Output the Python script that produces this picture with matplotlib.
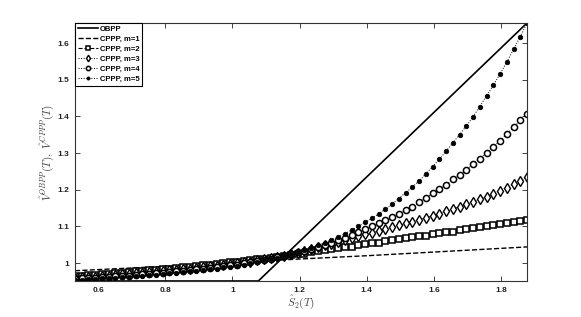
import numpy as np
import matplotlib
matplotlib.use("Agg")
import matplotlib.pyplot as plt

plt.rcParams['mathtext.fontset'] = 'cm'

s_grid = np.linspace(0.531, 1.877, 68)

# OBPP (piecewise linear)
obpp_x = [0.531, 1.077, 1.877]
obpp_y = [0.951, 0.951, 1.655]

# CPPP, m=1 (dashed, no markers)
m1_x = [0.531, 0.8, 1.0, 1.2, 1.4, 1.6, 1.877]
m1_y = [0.979, 0.991, 1.001, 1.011, 1.020, 1.030, 1.044]

m2 = [0.964, 0.965, 0.967, 0.968, 0.969, 0.971, 0.972, 0.974, 0.975, 0.977,
      0.978, 0.980, 0.981, 0.983, 0.985, 0.986, 0.988, 0.990, 0.992, 0.994,
      0.996, 0.998, 1.000, 1.002, 1.004, 1.006, 1.008, 1.010, 1.012, 1.014,
      1.017, 1.019, 1.022, 1.024, 1.026, 1.029, 1.032, 1.035, 1.037, 1.040,
      1.043, 1.045, 1.048, 1.051, 1.054, 1.056, 1.059, 1.062, 1.065, 1.067,
      1.070, 1.073, 1.075, 1.078, 1.081, 1.084, 1.086, 1.089, 1.092, 1.095,
      1.098, 1.101, 1.104, 1.106, 1.109, 1.112, 1.114, 1.117]

m3 = [0.960, 0.961, 0.962, 0.963, 0.965, 0.966, 0.967, 0.969, 0.970, 0.972,
      0.973, 0.975, 0.976, 0.978, 0.980, 0.981, 0.983, 0.985, 0.987, 0.989,
      0.991, 0.993, 0.995, 0.997, 0.999, 1.002, 1.004, 1.007, 1.010, 1.013,
      1.016, 1.020, 1.024, 1.028, 1.033, 1.038, 1.043, 1.048, 1.053, 1.058,
      1.063, 1.068, 1.073, 1.078, 1.083, 1.088, 1.093, 1.098, 1.103, 1.108,
      1.113, 1.118, 1.123, 1.129, 1.135, 1.141, 1.147, 1.154, 1.160, 1.167,
      1.174, 1.181, 1.189, 1.197, 1.206, 1.216, 1.225, 1.234]

m4 = [0.957, 0.958, 0.959, 0.960, 0.961, 0.962, 0.964, 0.965, 0.966, 0.968,
      0.969, 0.971, 0.972, 0.974, 0.976, 0.977, 0.979, 0.981, 0.983, 0.985,
      0.987, 0.989, 0.991, 0.994, 0.996, 0.999, 1.002, 1.005, 1.008, 1.012,
      1.016, 1.020, 1.024, 1.029, 1.034, 1.039, 1.045, 1.050, 1.056, 1.062,
      1.069, 1.076, 1.084, 1.092, 1.100, 1.108, 1.117, 1.126, 1.135, 1.144,
      1.154, 1.166, 1.178, 1.190, 1.201, 1.214, 1.228, 1.241, 1.255, 1.270,
      1.285, 1.301, 1.317, 1.333, 1.352, 1.370, 1.389, 1.407]

m5 = [0.954, 0.955, 0.956, 0.957, 0.958, 0.959, 0.960, 0.961, 0.963, 0.964,
      0.965, 0.967, 0.968, 0.970, 0.972, 0.973, 0.975, 0.977, 0.979, 0.981,
      0.983, 0.985, 0.988, 0.990, 0.993, 0.996, 0.999, 1.003, 1.007, 1.011,
      1.015, 1.020, 1.024, 1.029, 1.035, 1.041, 1.048, 1.055, 1.063, 1.071,
      1.080, 1.090, 1.100, 1.111, 1.122, 1.134, 1.147, 1.161, 1.176, 1.192,
      1.207, 1.224, 1.243, 1.263, 1.283, 1.305, 1.328, 1.350, 1.374, 1.399,
      1.427, 1.456, 1.485, 1.516, 1.548, 1.583, 1.618, 1.655]

xticks = [0.6, 0.8, 1.0, 1.2, 1.4, 1.6, 1.8]
xticklabels = ['0.6', '0.8', '1', '1.2', '1.4', '1.6', '1.8']
yticks = [1.0, 1.1, 1.2, 1.3, 1.4, 1.5, 1.6]
yticklabels = ['1', '1.1', '1.2', '1.3', '1.4', '1.5', '1.6']

fig = plt.figure(figsize=(5.81, 3.17), dpi=100)
ax = fig.add_axes([75/581, 36/317, 452/581, 258/317])

ax.plot(obpp_x, obpp_y, '-', color='black', lw=1.2, label='OBPP')
ax.plot(m1_x, m1_y, '--', color='black', lw=1.0, label='CPPP, m=1')
ax.plot(s_grid, m2, '--', color='black', lw=0.8, marker='s', ms=3.9,
        mfc='white', mec='black', mew=1.1, label='CPPP, m=2')
ax.plot(s_grid, m3, ':', color='black', lw=0.7, marker='d', ms=4.8,
        mfc='white', mec='black', mew=1.0, label='CPPP, m=3')
ax.plot(s_grid, m4, ':', color='black', lw=0.7, marker='o', ms=4.4,
        mfc='white', mec='black', mew=1.1, label='CPPP, m=4')
ax.plot(s_grid, m5, ':', color='black', lw=0.7, marker='o', ms=3.3,
        mfc='black', mec='black', mew=0.5, label='CPPP, m=5')

ax.set_xlim(0.531, 1.877)
ax.set_ylim(0.951, 1.655)
ax.set_xticks(xticks)
ax.set_xticklabels(xticklabels)
ax.set_yticks(yticks)
ax.set_yticklabels(yticklabels)
ax.tick_params(direction='in', length=3.5, width=0.6, top=True, right=True,
               labelsize=6, pad=4, colors='#222222')
for lab in ax.get_xticklabels() + ax.get_yticklabels():
    lab.set_fontfamily('Liberation Sans')
    lab.set_fontweight('bold')
for sp in ax.spines.values():
    sp.set_linewidth(0.8)
    sp.set_color('#333333')

ax.set_xlabel(r'$\hat{S}_2(T)$', fontsize=8, color='#444444', labelpad=0)
ax.set_ylabel(r'$\hat{V}^{OBPP}(T),\ \hat{V}^{CPPP}(T)$', fontsize=8,
              color='#444444', labelpad=1)

leg = ax.legend(loc='upper left', prop={'family': 'Liberation Sans', 'weight': 'bold', 'size': 5.5},
                frameon=True, fancybox=False, edgecolor='black', borderaxespad=0,
                handlelength=2.6, handletextpad=0.3, labelspacing=0.35,
                borderpad=0.35, framealpha=1, markerscale=0.7)
leg.get_frame().set_linewidth(0.8)

fig.savefig('out.png', dpi=100)
